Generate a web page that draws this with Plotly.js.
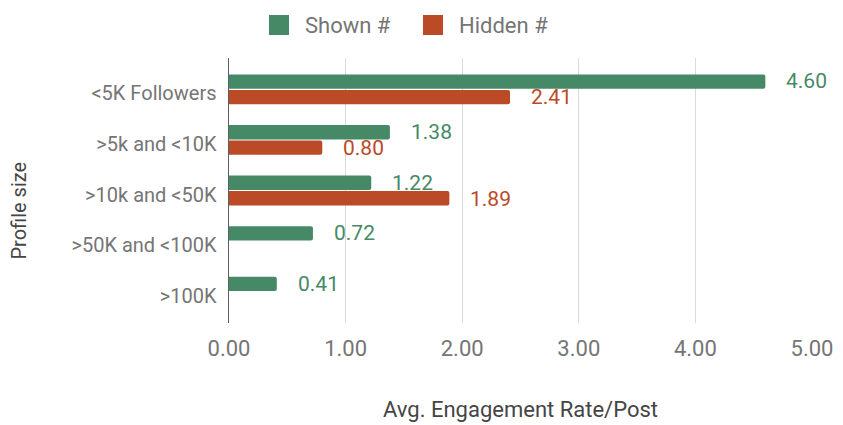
<!DOCTYPE html>
<html>
<head>
<meta charset="utf-8">
<script src="https://cdn.plot.ly/plotly-3.0.1.min.js"></script>
<style>
  html, body { margin: 0; padding: 0; background: #fff; }
  #chart { width: 843px; height: 425px; }
</style>
</head>
<body>
<div id="chart"></div>
<script>
// Profile size buckets, top to bottom
const categories = ['<5K Followers', '>5k and <10K', '>10k and <50K', '>50K and <100K', '>100K'];
const shownValues = [4.60, 1.38, 1.22, 0.72, 0.41];
const hiddenValues = [2.41, 0.80, 1.89, null, null];
const seriesNames = ['Shown #', 'Hidden #'];
const xTicks = [0, 1, 2, 3, 4, 5];

const GREEN = '#468967';
const RED = '#bb4a27';
const GREY = '#757575';
const DARK = '#454545';
const FONT = 'Roboto, "Open Sans", sans-serif';

const traces = [
  {
    type: 'bar',
    orientation: 'h',
    name: seriesNames[0],
    y: categories,
    x: shownValues,
    marker: { color: GREEN, cornerradius: 2 },
    cliponaxis: false,
  },
  {
    type: 'bar',
    orientation: 'h',
    name: seriesNames[1],
    y: categories,
    x: hiddenValues,
    marker: { color: RED, cornerradius: 2 },
    cliponaxis: false,
  },
];

// value labels next to the bar ends
const annotations = [];
function addLabels(values, color, yshift) {
  values.forEach((v, i) => {
    if (v == null) return;
    annotations.push({
      x: v,
      y: categories[i],
      xref: 'x',
      yref: 'y',
      text: v.toFixed(2),
      showarrow: false,
      xanchor: 'left',
      yanchor: 'middle',
      xshift: 19,
      yshift: yshift,
      font: { family: FONT, size: 21, color: color },
    });
  });
}
addLabels(shownValues, GREEN, 8);
addLabels(hiddenValues, RED, -8);

// y title sits a bit below the plot middle, so place it by hand
annotations.push({
  xref: 'paper', yref: 'paper',
  x: -0.36, y: 0.425,
  text: 'Profile size',
  textangle: -90,
  showarrow: false,
  xanchor: 'center', yanchor: 'middle',
  font: { family: FONT, size: 20, color: DARK },
});

// legend with large square swatches
const legendColors = [GREEN, RED];
const legendX = [40, 194];   // px from the plot's left edge
const shapes = [];
seriesNames.forEach((name, i) => {
  shapes.push({
    type: 'rect',
    xref: 'paper', yref: 'paper',
    xsizemode: 'pixel', ysizemode: 'pixel',
    xanchor: 0, yanchor: 1,
    x0: legendX[i], x1: legendX[i] + 20,
    y0: 23, y1: 43,
    fillcolor: legendColors[i],
    line: { width: 0 },
  });
  annotations.push({
    xref: 'paper', yref: 'paper',
    x: 0, y: 1,
    xshift: legendX[i] + 34,
    yshift: 33,
    xanchor: 'left', yanchor: 'middle',
    text: name,
    showarrow: false,
    font: { family: FONT, size: 22, color: GREY },
  });
});

const layout = {
  width: 843,
  height: 425,
  margin: { l: 229, r: 31, t: 58, b: 102 },
  paper_bgcolor: '#fff',
  plot_bgcolor: '#fff',
  font: { family: FONT, size: 15, color: GREY },
  barmode: 'group',
  bargap: 0.39,
  bargroupgap: 0.07,
  showlegend: false,
  xaxis: {
    range: [0, 5],
    tickvals: xTicks,
    ticktext: xTicks.map(v => v.toFixed(2)),
    showgrid: true,
    gridcolor: '#dadada',
    gridwidth: 1,
    zeroline: false,
    showline: false,
    ticks: '',
    ticklabelstandoff: 10,
    tickfont: { family: FONT, size: 22, color: GREY },
    title: {
      text: 'Avg. Engagement Rate/Post',
      font: { family: FONT, size: 22, color: DARK },
      standoff: 41,
    },
    fixedrange: true,
  },
  yaxis: {
    type: 'category',
    range: [4.62, -0.62],
    showgrid: false,
    zeroline: false,
    showline: true,
    linecolor: '#5f5f5f',
    linewidth: 1.5,
    ticks: '',
    ticklabelstandoff: 7,
    ticklabelshift: -4,
    tickfont: { family: FONT, size: 20, color: GREY },
    fixedrange: true,
  },
  shapes: shapes,
  annotations: annotations,
};

Plotly.newPlot('chart', traces, layout, { displayModeBar: false, staticPlot: true });
</script>
</body>
</html>
